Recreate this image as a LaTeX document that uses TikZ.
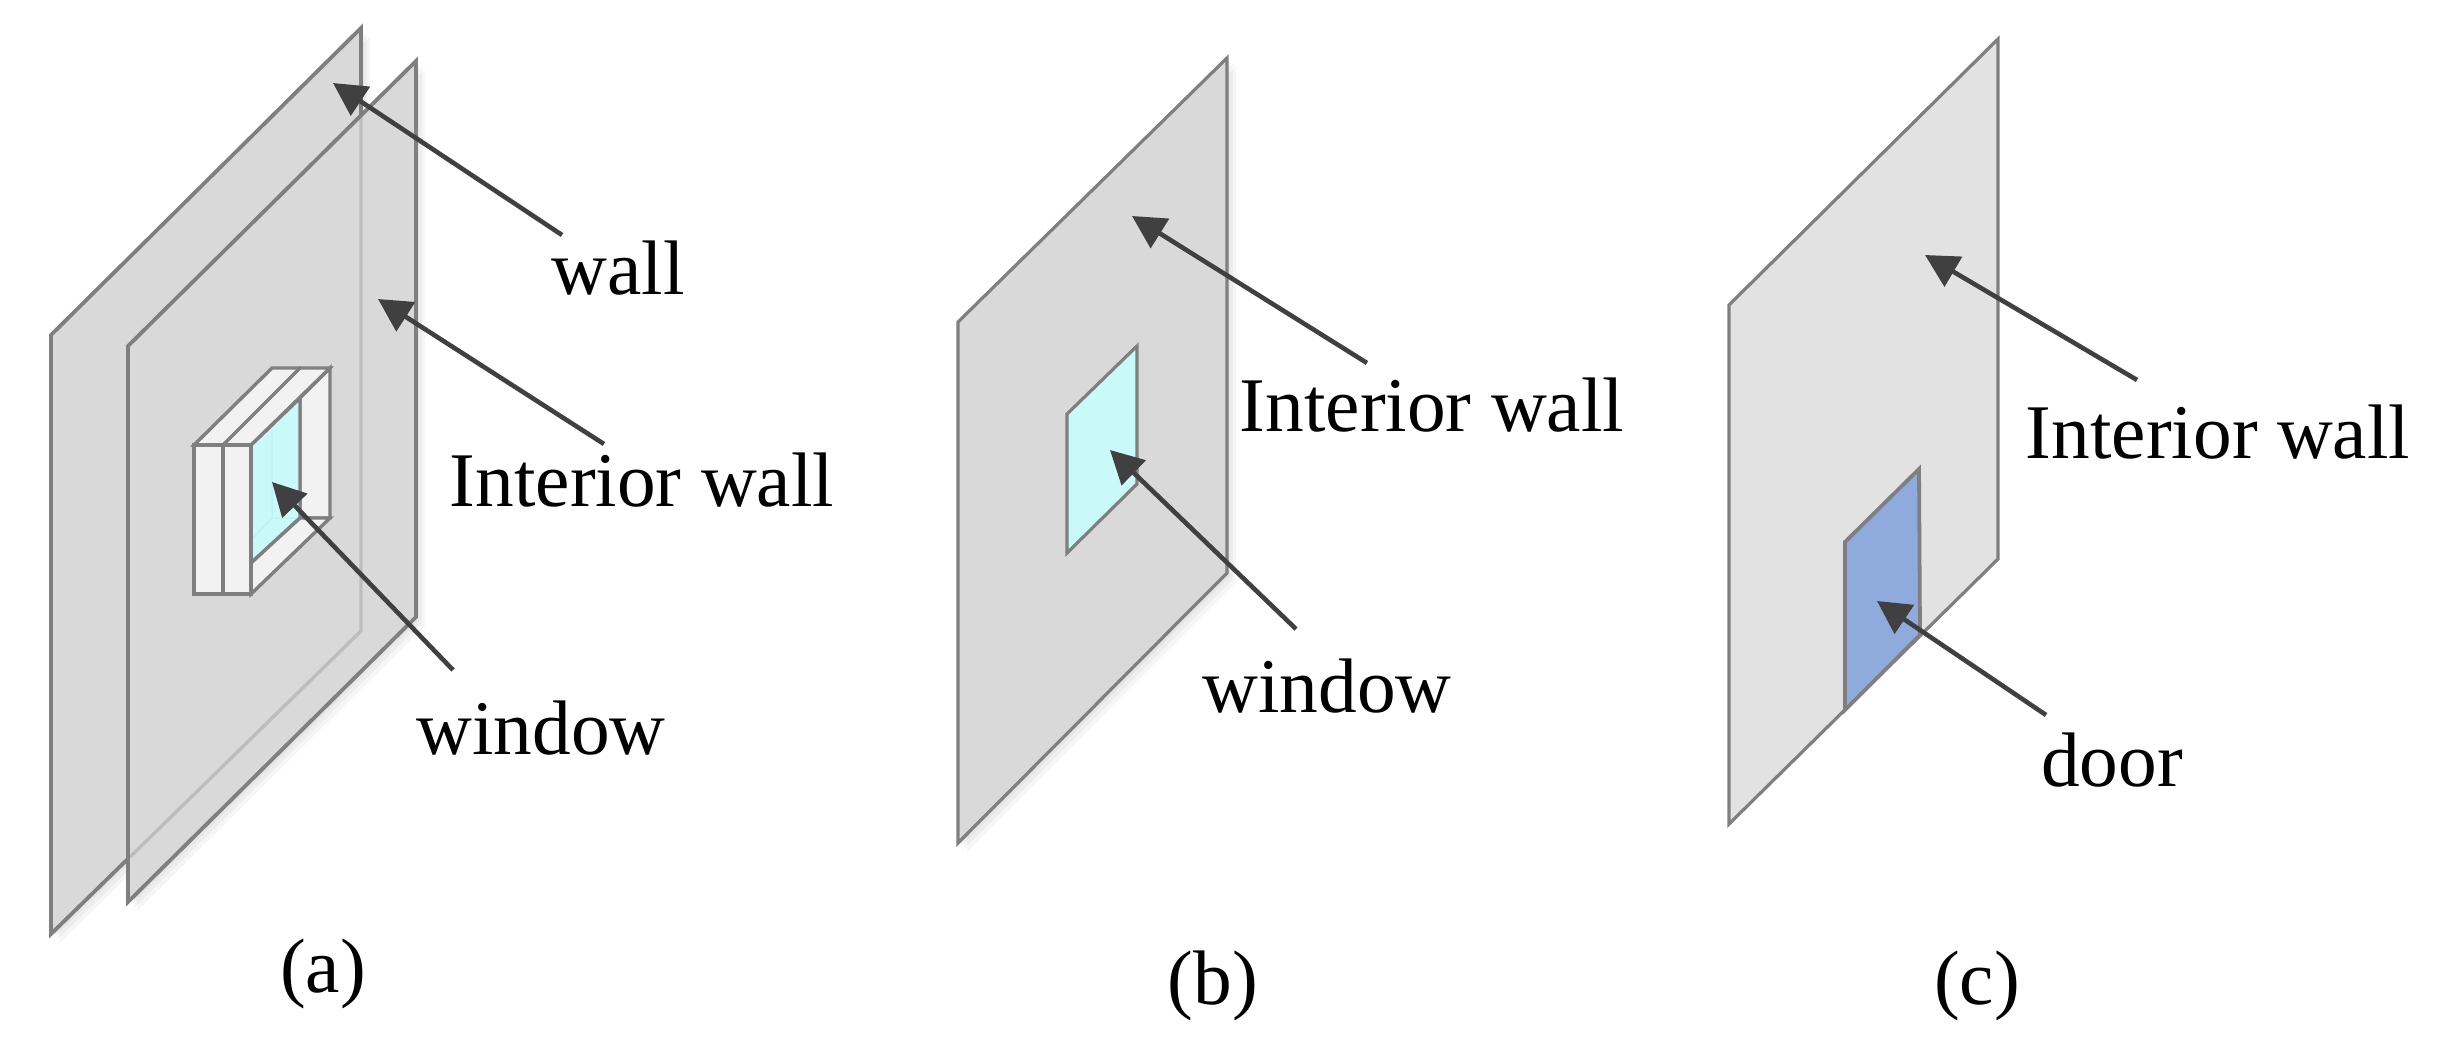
\documentclass[tikz,border=0pt]{standalone}
\usepackage{fontspec}
\setmainfont{Liberation Serif}
\usetikzlibrary{arrows.meta}
\definecolor{edgegray}{HTML}{7F7F7F}
\definecolor{wallgray}{HTML}{D9D9D9}
\definecolor{ghostedge}{HTML}{BDBDBD}
\definecolor{walllight}{HTML}{E2E2E2}
\definecolor{framegray}{HTML}{F2F2F2}
\definecolor{glass}{HTML}{C9F9F9}
\definecolor{glassghost}{HTML}{BFF3F3}
\definecolor{doorblue}{HTML}{8FAADC}
\definecolor{arrowgray}{HTML}{404040}
\tikzset{
  panel/.style={draw=edgegray,line width=3.8pt,line join=miter},
  thinpanel/.style={draw=edgegray,line width=3.2pt,line join=miter},
  frame/.style={draw=edgegray,line width=3.4pt,fill=framegray,line join=miter},
  pointer/.style={draw=arrowgray,line width=4.6pt,-{Triangle[length=33pt,width=34pt]}},
  label/.style={anchor=base,inner sep=0pt,outer sep=0pt,text=black,font=\fontsize{77.3}{80}\selectfont},
  softshadow/.style={fill=black,fill opacity=0.035,draw=none}
}
\begin{document}
\begin{tikzpicture}[x=1pt,y=-1pt]
\useasboundingbox (0,0) rectangle (2442,1053);

% --- panel (a) ---
\foreach \d in {3,6,9}{\fill[softshadow] (361+\d,28+\d) -- (361+\d,631+\d) -- (51+\d,934+\d) -- (51,335) -- cycle;}
\path[panel,fill=wallgray] (51,335) -- (361,28) -- (361,631) -- (51,934) -- cycle;
\foreach \d in {3,6,9}{\fill[softshadow] (416+\d,61+\d) -- (416+\d,617+\d) -- (128+\d,902+\d) -- (128,346) -- cycle;}
\path[fill=wallgray] (128,346) -- (416,61) -- (416,617) -- (128,902) -- cycle;
% back wall edges seen through the translucent interior wall
\draw[ghostedge,line width=3.4pt,line join=miter] (361,117) -- (361,631) -- (130,857);
\path[panel] (128,346) -- (416,61) -- (416,617) -- (128,902) -- cycle;

% window box
\path[frame] (330,368) -- (330,518) -- (300,518) -- (300,398) -- cycle;
\path[draw=edgegray,line width=3.4pt,fill=glass] (251,445) -- (300,398) -- (300,518) -- (251,563) -- cycle;
\draw[glassghost,line width=1.5pt] (272,430) -- (272,518) -- (298,518) (272,518) -- (253,538);
\path[frame] (251,563) -- (300,518) -- (330,518) -- (251,594) -- cycle;
\path[frame] (194,445) -- (272,368) -- (330,368) -- (251,445) -- cycle;
\draw[edgegray,line width=3.4pt] (223,445) -- (301,367);
\path[frame] (194,445) rectangle (251,594);
\draw[edgegray,line width=3.4pt] (223,445) -- (223,596);

\coordinate (atipwall) at (333,83);
\coordinate (atailwall) at (562,235);
\coordinate (atipint) at (378,299);
\coordinate (atailint) at (604,444);
\coordinate (atipwin) at (272,482);
\coordinate (atailwin) at (453,670);
\draw[pointer] (atailwall) -- (atipwall);
\draw[pointer] (atailint) -- (atipint);
\draw[pointer] (atailwin) -- (atipwin);

\node[label] (alwall) at (618,294) {wall};
\node[label] (alint) at (642,506) {Interior wall};
\node[label] (alwin) at (541,754) {window};
\node[label] (alcap) at (323,992) {(a)};

% --- panel (b) ---
\foreach \d in {3,6,9}{\fill[softshadow] (1227+\d,58+\d) -- (1227+\d,573+\d) -- (958+\d,843+\d) -- (958,322) -- cycle;}
\path[thinpanel,fill=wallgray] (958,322) -- (1227,58) -- (1227,573) -- (958,843) -- cycle;
\path[thinpanel,fill=glass] (1067,414) -- (1137,346) -- (1137,484) -- (1067,553) -- cycle;

\coordinate (btipint) at (1132,216);
\coordinate (btailint) at (1367,363);
\coordinate (btipwin) at (1110,450);
\coordinate (btailwin) at (1296,629);
\draw[pointer] (btailint) -- (btipint);
\draw[pointer] (btailwin) -- (btipwin);

\node[label] (blint) at (1432,431) {Interior wall};
\node[label] (blwin) at (1327,712) {window};
\node[label] (blcap) at (1213,1004) {(b)};

% --- panel (c) ---
\path[thinpanel,fill=walllight] (1729,305) -- (1998,39) -- (1998,559) -- (1729,824) -- cycle;
\path[panel,fill=doorblue] (1845,542) -- (1919,469) -- (1920,635) -- (1845,710) -- cycle;

\coordinate (ctipint) at (1925,255);
\coordinate (ctailint) at (2137,380);
\coordinate (ctipdoor) at (1877,601);
\coordinate (ctaildoor) at (2046,715);
\draw[pointer] (ctailint) -- (ctipint);
\draw[pointer] (ctaildoor) -- (ctipdoor);

\node[label] (clint) at (2218,458) {Interior wall};
\node[label] (cldoor) at (2112,786) {door};
\node[label] (clcap) at (1977,1004) {(c)};
\end{tikzpicture}
\end{document}
